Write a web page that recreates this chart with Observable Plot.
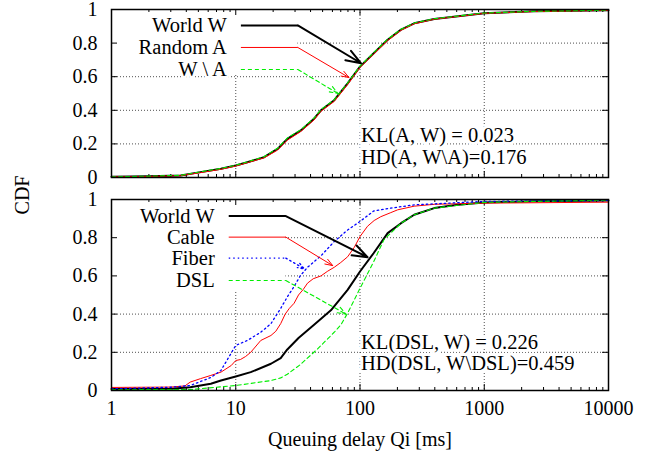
<!DOCTYPE html>
<html><head><meta charset="utf-8">
<script src="https://cdn.jsdelivr.net/npm/d3@7"></script>
<script src="https://cdn.jsdelivr.net/npm/@observablehq/plot@0.6"></script>
<style>
body{margin:0;background:#fff;}
#chart{position:relative;width:665px;height:464px;font-family:"Liberation Serif",serif;}
#chart svg{position:absolute;left:0;overflow:visible;}
#ylab{position:absolute;left:22px;top:195px;transform:translate(-50%,-50%) rotate(-90deg);font-size:20px;white-space:nowrap;}
</style></head><body><div id="chart"><div id="ylab">CDF</div></div>
<script>
// ---------- data ----------
const xTickValues = [1, 10, 100, 1000, 10000];
const xTickLabels = ["1", "10", "100", "1000", "10000"];
const yTickValues = [0, 0.2, 0.4, 0.6, 0.8, 1];
const yTickLabels = ["0", "0.2", "0.4", "0.6", "0.8", "1"];
const xTitle = "Queuing delay Qi [ms]";

// top panel
const topDelay = [1, 2, 3.6, 5.2, 7.6, 10, 12.4, 16.9, 21.7, 26, 33.4, 42.7, 48.5, 62, 79.5, 100, 129, 167, 214, 273, 396, 1000, 2500, 10000];
const topWorld = [0.004, 0.007, 0.012, 0.032, 0.052, 0.071, 0.091, 0.121, 0.17, 0.23, 0.28, 0.35, 0.40, 0.46, 0.56, 0.66, 0.74, 0.82, 0.88, 0.918, 0.944, 0.978, 0.989, 0.995];
const topRandom = [0.004, 0.006, 0.011, 0.029, 0.049, 0.068, 0.088, 0.117, 0.163, 0.222, 0.274, 0.343, 0.394, 0.453, 0.553, 0.655, 0.735, 0.815, 0.876, 0.915, 0.942, 0.977, 0.988, 0.995];
const topRest = [0.004, 0.008, 0.013, 0.034, 0.054, 0.073, 0.093, 0.124, 0.174, 0.235, 0.284, 0.354, 0.404, 0.463, 0.563, 0.663, 0.744, 0.824, 0.882, 0.92, 0.945, 0.979, 0.989, 0.996];
const topLabels = ["World W", "Random A", "W \\ A"];
const topNotes = ["KL(A, W) = 0.023", "HD(A, W\\A)=0.176"];

// bottom panel
const worldX = [1, 3, 4.3, 6.3, 7.6, 10, 13.2, 19.2, 23, 26, 32, 42.7, 58.3, 79.5, 100, 129, 167, 214, 273, 396, 613, 1000, 2530, 10000];
const worldY = [0.008, 0.009, 0.017, 0.035, 0.052, 0.073, 0.096, 0.14, 0.17, 0.215, 0.275, 0.344, 0.42, 0.527, 0.623, 0.72, 0.824, 0.876, 0.92, 0.955, 0.972, 0.984, 0.991, 0.995];
const cableX = [1, 3, 3.9, 4.3, 5.2, 6.3, 7.6, 9.2, 10, 10.9, 12, 13.2, 15.9, 19.2, 21, 23, 25, 27, 29.5, 32, 35, 37.8, 42, 48.5, 55, 62, 70, 79.5, 90, 100, 115, 130, 147, 175, 201, 273, 400, 1000, 10000];
const cableY = [0.016, 0.018, 0.024, 0.044, 0.062, 0.079, 0.096, 0.131, 0.157, 0.162, 0.178, 0.2, 0.262, 0.288, 0.31, 0.35, 0.4, 0.43, 0.457, 0.5, 0.53, 0.562, 0.585, 0.6, 0.625, 0.645, 0.67, 0.70, 0.75, 0.806, 0.86, 0.89, 0.91, 0.93, 0.946, 0.965, 0.975, 0.981, 0.986];
const fiberX = [1, 3, 4.3, 5.6, 6.3, 7.6, 8.8, 10, 12.4, 15.9, 19.2, 23, 26, 29.5, 33, 37.8, 48.5, 62, 79.5, 100, 129, 178, 273, 1000, 10000];
const fiberY = [0.009, 0.017, 0.026, 0.055, 0.068, 0.105, 0.175, 0.236, 0.262, 0.305, 0.35, 0.43, 0.49, 0.545, 0.6, 0.645, 0.705, 0.78, 0.84, 0.885, 0.94, 0.955, 0.972, 0.99, 0.995];
const dslX = [1, 4.3, 10, 19.2, 23, 26, 33, 45.6, 62, 70.3, 79.5, 100, 129, 156, 214, 273, 396, 1000, 10000];
const dslY = [0.004, 0.005, 0.026, 0.052, 0.066, 0.085, 0.135, 0.218, 0.305, 0.345, 0.405, 0.535, 0.675, 0.79, 0.876, 0.92, 0.955, 0.985, 0.997];
const botLabels = ["World W", "Cable", "Fiber", "DSL"];
const botNotes = ["KL(DSL, W) = 0.226", "HD(DSL, W\\DSL)=0.459"];

// ---------- styles & layout ----------
const styleW = {stroke: "#000000", strokeWidth: 2};
const styleRed = {stroke: "#ff0000", strokeWidth: 1};
const styleGreen = {stroke: "#00ee00", strokeWidth: 1.1, strokeDasharray: "4,3"};
const styleBlue = {stroke: "#0000ff", strokeWidth: 1.3, strokeDasharray: "1.5,3"};

const layoutTop = {
  top: 0, height: 185, marginTop: 9, marginBottom: 8, showX: false,
  key: {from: 11, to: 31.6, rows: [0.905, 0.774, 0.643], tips: [[102, 0.68], [81.5, 0.595], [66.5, 0.5]], pad: 0.035},
  notes: {x: 102, rows: [0.25, 0.119]}
};
const layoutBot = {
  top: 185, height: 279, marginTop: 14, marginBottom: 74, showX: true,
  key: {from: 8.78, to: 25.3, rows: [0.913, 0.803, 0.693, 0.576], tips: [[115, 0.698], [60.3, 0.654], [35.6, 0.637], [77.1, 0.40]], pad: 0.056},
  notes: {x: 102, rows: [0.253, 0.14]}
};

const WIDTH = 665, ML = 111, MR = 57;
const xMinor = [];
for (let d = 1; d < 10000; d *= 10) for (let k = 2; k <= 9; k++) xMinor.push(d * k);

function zip(xs, ys) { return xs.map((x, i) => ({x, y: ys[i]})); }

function panel(layout, series, labels, notes) {
  const fw = WIDTH - ML - MR;
  const fh = layout.height - layout.marginTop - layout.marginBottom;
  const key = layout.key;
  const keyData = labels.map((label, i) => ({
    label, row: key.rows[i], from: key.from, to: key.to, tx: key.tips[i][0], ty: key.tips[i][1], style: series[i].style
  }));
  const marks = [
    // grid
    Plot.ruleX(xTickValues.slice(1, -1), {stroke: "#222", strokeWidth: 0.8, strokeDasharray: "1,2"}),
    Plot.ruleY(yTickValues.slice(1, -1), {stroke: "#222", strokeWidth: 0.8, strokeDasharray: "1,2"}),
    // opaque key box
    Plot.rect([{}], {x1: () => xTickValues[0], x2: () => key.to, y1: () => d3.min(key.rows) - key.pad, y2: () => 1, fill: "white"}),
    // inward ticks
    Plot.ruleX(xTickValues, {stroke: "black", insetTop: fh - 6}),
    Plot.ruleX(xTickValues, {stroke: "black", insetBottom: fh - 6}),
    Plot.ruleX(xMinor, {stroke: "black", insetTop: fh - 3}),
    Plot.ruleX(xMinor, {stroke: "black", insetBottom: fh - 3}),
    Plot.ruleY(yTickValues, {stroke: "black", insetRight: fw - 6}),
    Plot.ruleY(yTickValues, {stroke: "black", insetLeft: fw - 6}),
  ];
  for (const s of series) {
    marks.push(Plot.line(s.data, {x: "x", y: "y", ...s.style}));
  }
  keyData.forEach(k => {
    marks.push(Plot.link([k], {x1: "from", x2: "to", y1: "row", y2: "row", ...k.style}));
    marks.push(Plot.arrow([k], {x1: "to", y1: "row", x2: "tx", y2: "ty", headLength: 12, headAngle: 40, ...k.style}));
  });
  marks.push(Plot.text(keyData, {x: "from", y: "row", text: "label", textAnchor: "end", dx: -14, fontSize: 20.5, fill: "black", stroke: "white", strokeWidth: 5}));
  marks.push(Plot.text(notes.map((t, i) => ({t, y: layout.notes.rows[i]})), {x: () => layout.notes.x, y: "y", text: "t", textAnchor: "start", fontSize: 20.5, fill: "black", stroke: "white", strokeWidth: 6}));
  marks.push(Plot.frame({stroke: "black", strokeWidth: 1.5}));
  marks.push(Plot.axisY(yTickValues, {tickSize: 0, tickPadding: 14, tickFormat: (d, i) => yTickLabels[i], fontSize: 20, label: null}));
  marks.push(Plot.axisX({ticks: [], label: null, tickSize: 0}));
  if (layout.showX) {
    marks.push(Plot.text(xTickValues.map((v, i) => ({v, t: xTickLabels[i]})), {x: "v", text: "t", frameAnchor: "bottom", dy: 24, fontSize: 20, fill: "black"}));
    marks.push(Plot.text([xTitle], {frameAnchor: "bottom", dy: 55, fontSize: 20, fill: "black"}));
  }
  const svg = Plot.plot({
    width: WIDTH, height: layout.height,
    marginLeft: ML, marginRight: MR, marginTop: layout.marginTop, marginBottom: layout.marginBottom,
    style: {fontFamily: "Liberation Serif, serif", fontSize: "20px", background: "transparent", color: "black", overflow: "visible"},
    x: {type: "log", domain: [1, 10000]},
    y: {domain: [0, 1]},
    marks
  });
  svg.style.top = layout.top + "px";
  return svg;
}

const chart = document.getElementById("chart");
chart.appendChild(panel(layoutTop, [
  {data: zip(topDelay, topWorld), style: styleW},
  {data: zip(topDelay, topRandom), style: styleRed},
  {data: zip(topDelay, topRest), style: styleGreen}
], topLabels, topNotes));
chart.appendChild(panel(layoutBot, [
  {data: zip(worldX, worldY), style: styleW},
  {data: zip(cableX, cableY), style: styleRed},
  {data: zip(fiberX, fiberY), style: styleBlue},
  {data: zip(dslX, dslY), style: styleGreen}
], botLabels, botNotes));
</script></body></html>
